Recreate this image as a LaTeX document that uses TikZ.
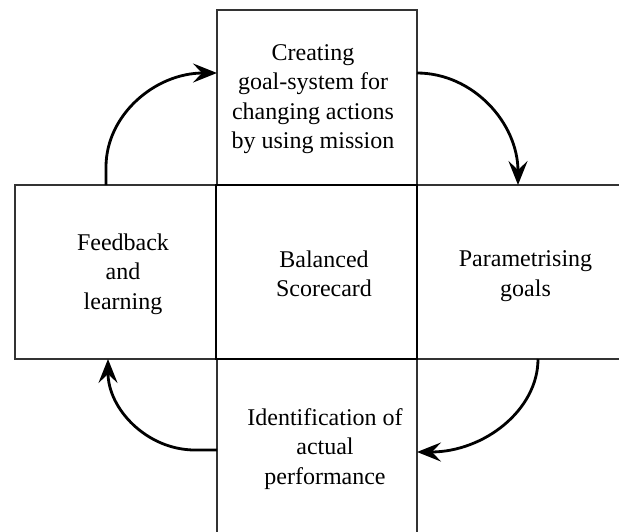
\documentclass[tikz,border=0pt]{standalone}
\usepackage{fontspec}
\setmainfont{Liberation Serif}
\usetikzlibrary{arrows.meta,calc}
\begin{document}
\begin{tikzpicture}[x=1pt,y=-1pt,
  box/.style={draw=black!80,line width=1.3pt,inner sep=0pt,outer sep=0pt},
  corebox/.style={draw=black,line width=2.6pt,inner sep=0pt,outer sep=0pt},
  txt/.style={align=center,inner sep=0pt,font=\rmfamily\fontsize{24}{29.5}\selectfont},
  arr/.style={line width=2.8pt,-{Stealth[length=24pt,width=19pt,inset=9pt]}}
]
\clip (0,0) rectangle (619,531);
\useasboundingbox (0,0) rectangle (619,531);
% boxes
\node[box,minimum width=200pt,minimum height=175pt] (top) at (317,97.5) {};
\node[box,minimum width=201pt,minimum height=174pt] (left) at (115.5,272) {};
\node[box,minimum width=223pt,minimum height=174pt] (right) at (528.5,272) {};
\node[box,minimum width=200pt,minimum height=201pt] (bottom) at (317,459.5) {};
\node[corebox,minimum width=201pt,minimum height=174pt] (core) at (316.5,272) {};
% texts
\node[txt] (ttop) at (313,99) {Creating\\goal-system for\\changing actions\\by using mission};
\node[txt] (tleft) at (123,274) {Feedback\\and\\learning};
\node[txt] (tcore) at (324,274) {Balanced\\Scorecard};
\node[txt] (tright) at (525.5,276) {Parametrising\\goals};
\node[txt] (tbottom) at (325,449) {Identification of\\actual\\performance};
% connector end points
\coordinate (a1s) at ($(left.north west)+(91,0)$);
\coordinate (a1e) at ($(top.north west)+(0,63)$);
\coordinate (a2s) at ($(top.north east)+(0,63)$);
\coordinate (a2e) at ($(right.north west)+(101,0)$);
\coordinate (a3s) at ($(right.south west)+(121,0)$);
\coordinate (a3e) at ($(bottom.north east)+(0,93)$);
\coordinate (a4s) at ($(bottom.north west)+(0,91)$);
\coordinate (a4e) at ($(left.south west)+(93,0)$);
% connectors
\draw[arr] (a1s) -- ++(0,-18) .. controls +(0,-52) and ($(a1e)+(-62,0)$) .. (a1e);
\draw[arr] (a2s) .. controls +(56,0) and ($(a2e)+(0,-62)$) .. (a2e);
\draw[arr] (a3s) .. controls +(0,51) and ($(a3e)+(67,0)$) .. (a3e);
\draw[arr] (a4s) -- ++(-22,0) .. controls +(-48,0) and ($(a4e)+(0,50)$) .. (a4e);
\end{tikzpicture}
\end{document}
